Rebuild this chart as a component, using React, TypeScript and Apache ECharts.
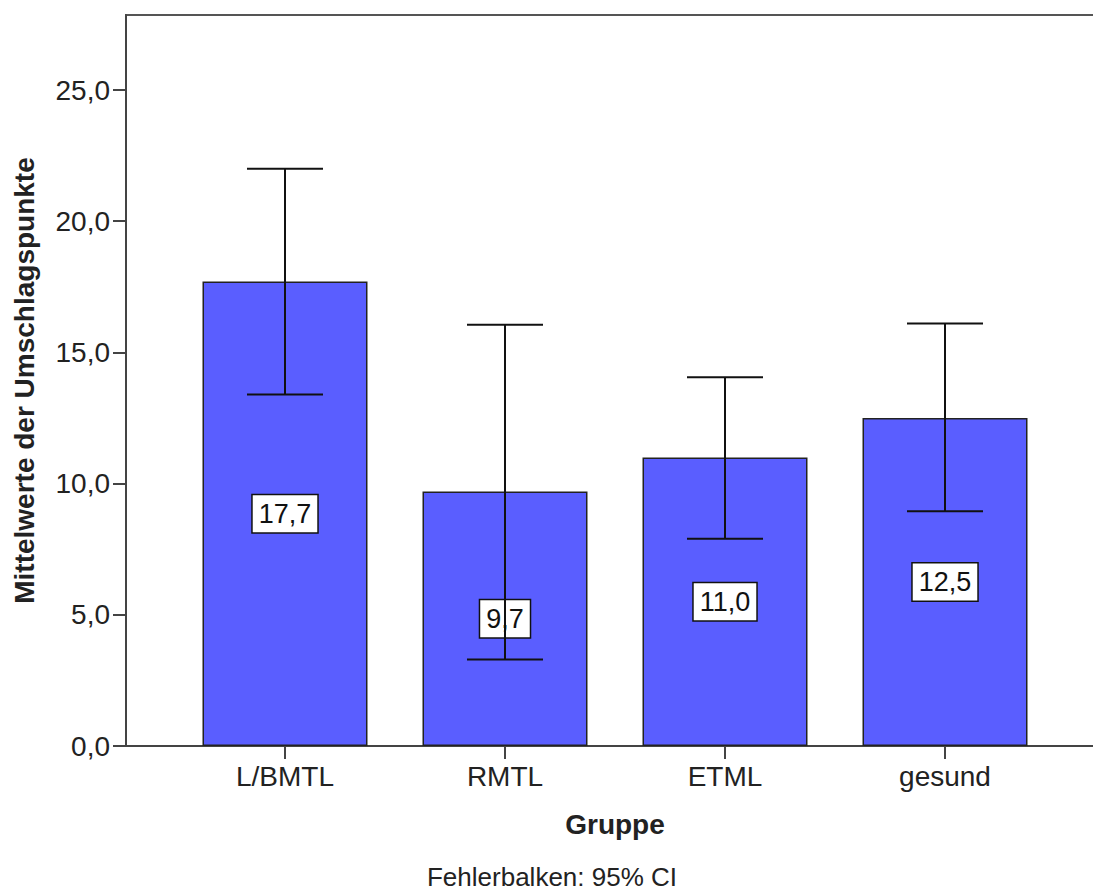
import React, { useEffect, useRef } from "react";
import * as echarts from "echarts";

const categories = ["L/BMTL", "RMTL", "ETML", "gesund"];
const means = [17.7, 9.7, 11.0, 12.5];
const ciLow = [13.4, 3.3, 7.9, 8.95];
const ciHigh = [22.0, 16.05, 14.05, 16.1];
const yTicks = [0, 5, 10, 15, 20, 25];

const FONT = "'Liberation Sans', Arial, Helvetica, sans-serif";

export default function App() {
  const ref = useRef<HTMLDivElement>(null);
  useEffect(() => {
    document.body.style.margin = "0";
    const chart = echarts.init(ref.current!, null, { renderer: "svg" });
    const idx = categories.map((_, i) => i);
    chart.setOption({
      animation: false,
      backgroundColor: "#ffffff",
      textStyle: { fontFamily: FONT },
      grid: {
        left: 126,
        top: 15,
        width: 978,
        height: 731,
        outerBoundsMode: "none",
        containLabel: false,
        show: true,
        borderColor: "#555",
        borderWidth: 2,
        backgroundColor: "transparent",
      },
      xAxis: {
        type: "value",
        min: -0.7227,
        max: 3.7227,
        name: "Gruppe",
        nameLocation: "middle",
        nameGap: 64,
        nameTextStyle: { fontSize: 28, fontWeight: "bold", color: "#222", fontFamily: FONT },
        axisLine: { show: true, onZero: false, lineStyle: { color: "#444", width: 2 } },
        axisTick: { show: true, length: 13, customValues: idx, lineStyle: { color: "#444", width: 2 } },
        axisLabel: {
          customValues: idx,
          fontSize: 28,
          color: "#222",
          margin: 16,
          fontFamily: FONT,
          formatter: (v: number) => categories[Math.round(v)] ?? "",
        },
        splitLine: { show: false },
      },
      yAxis: {
        type: "value",
        min: 0,
        max: 27.86,
        name: "Mittelwerte der Umschlagspunkte",
        nameLocation: "middle",
        nameGap: 88,
        nameTextStyle: { fontSize: 28, fontWeight: "bold", color: "#222", fontFamily: FONT },
        axisLine: { show: true, onZero: false, lineStyle: { color: "#444", width: 2 } },
        axisTick: { show: true, length: 13, customValues: yTicks, lineStyle: { color: "#444", width: 2 } },
        axisLabel: {
          customValues: yTicks,
          fontSize: 28,
          color: "#222",
          margin: 16,
          fontFamily: FONT,
          formatter: (v: number) => v.toFixed(1).replace(".", ","),
        },
        splitLine: { show: false },
      },
      series: [
        {
          type: "bar",
          z: 2,
          barWidth: 165,
          data: means.map((m, i) => [i, m]),
          itemStyle: { color: "#5a5eff", borderColor: "#222", borderWidth: 1.5 },
          label: {
            show: true,
            position: "inside",
            formatter: (p: any) => means[p.dataIndex].toFixed(1).replace(".", ","),
            fontSize: 27,
            color: "#111",
            fontFamily: FONT,
            backgroundColor: "#ffffff",
            borderColor: "#111",
            borderWidth: 1.5,
            padding: [6, 6, 4, 6],
          },
        },
        {
          type: "custom",
          z: 10,
          data: idx.map((i) => [i, ciLow[i], ciHigh[i]]),
          renderItem: (params: any, api: any) => {
            const x = api.value(0);
            const lo = api.coord([x, api.value(1)]);
            const hi = api.coord([x, api.value(2)]);
            const half = 38;
            const style = { stroke: "#111", lineWidth: 2 };
            return {
              type: "group",
              children: [
                { type: "line", shape: { x1: lo[0], y1: lo[1], x2: hi[0], y2: hi[1] }, style },
                { type: "line", shape: { x1: hi[0] - half, y1: hi[1], x2: hi[0] + half, y2: hi[1] }, style },
                { type: "line", shape: { x1: lo[0] - half, y1: lo[1], x2: lo[0] + half, y2: lo[1] }, style },
              ],
            };
          },
        },
      ],
      graphic: [
        {
          type: "text",
          x: 552,
          y: 877,
          style: {
            text: "Fehlerbalken: 95% CI",
            fontSize: 26,
            fontFamily: FONT,
            fill: "#222",
            align: "center",
            verticalAlign: "middle",
          },
        },
      ],
    });
    return () => chart.dispose();
  }, []);
  return <div ref={ref} style={{ width: 1093, height: 890 }} />;
}
